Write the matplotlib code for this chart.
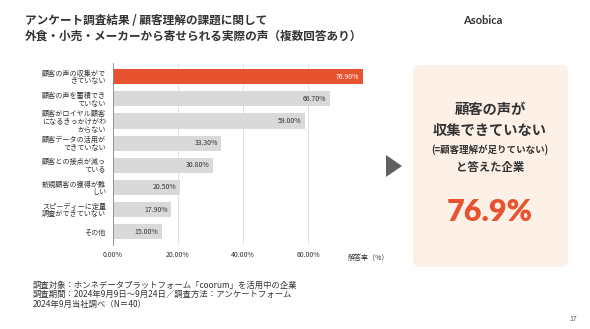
import matplotlib
matplotlib.use("Agg")
import matplotlib.pyplot as plt
from matplotlib.patches import FancyBboxPatch, Polygon

plt.rcParams['font.family'] = ['Noto Sans CJK JP', 'DejaVu Sans']

categories = [
    "顧客の声の収集がで\nきていない",
    "顧客の声を蓄積でき\nていない",
    "顧客がロイヤル顧客\nになるきっかけがわ\nからない",
    "顧客データの活用が\nできていない",
    "顧客との接点が減っ\nている",
    "新規顧客の獲得が難\nしい",
    "スピーディーに定量\n調査ができていない",
    "その他",
]
values = [76.9, 66.7, 59.0, 33.3, 30.8, 20.5, 17.9, 15.0]
xticks = [0, 20, 40, 60]
xtick_labels = ["0.00%", "20.00%", "40.00%", "60.00%"]
highlight = "76.9%"

W, H = 590, 329
fig = plt.figure(figsize=(W / 100, H / 100), dpi=100)
fig.patch.set_facecolor("white")

RED = "#E8532F"
GRAY = "#D9D9D9"
TXT = "#333333"

def fx(px):
    return px / W

def fy(py):
    return 1 - py / H

ax = fig.add_axes([fx(113), fy(245), fx(373) - fx(113), fy(63) - fy(245)])
ypos = list(range(len(categories)))
colors = [RED if i == 0 else GRAY for i in range(len(values))]
ax.barh(ypos, values, height=0.68, color=colors, zorder=3)
ax.set_xlim(0, 80)
ax.set_ylim(len(categories) - 0.4, -0.62)
ax.set_xticks(xticks + [80])
ax.set_xticklabels(xtick_labels + [""], fontsize=5, color=TXT)
ax.set_yticks(ypos)
ax.set_yticklabels(categories, fontsize=5.1, color=TXT, linespacing=0.95, ha="right")
ax.tick_params(axis="both", length=0, pad=4)
ax.tick_params(axis="y", pad=5)
ax.grid(axis="x", color="#DDDDDD", linewidth=0.6, zorder=0)
for s in ["top", "right", "bottom"]:
    ax.spines[s].set_visible(False)
ax.spines["left"].set_color("#888888")
ax.spines["left"].set_linewidth(0.6)
ax.spines["left"].set_zorder(4)
for i, v in enumerate(values):
    ax.text(v - 1.0, i, f"{v:.2f}%", ha="right", va="center", fontsize=5,
            color="white" if i == 0 else TXT, zorder=5)

# overlay for decorations in pixel coords
ov = fig.add_axes([0, 0, 1, 1], zorder=-1)
ov.set_xlim(0, W)
ov.set_ylim(H, 0)
ov.axis("off")

ov.text(25, 20, "アンケート調査結果 / 顧客理解の課題に関して", fontsize=8.4, fontweight="bold",
        color=TXT, va="center", ha="left")
ov.text(25, 36, "外食・小売・メーカーから寄せられる実際の声（複数回答あり）", fontsize=8.4,
        fontweight="bold", color=TXT, va="center", ha="left")
ov.text(483, 21, "Asobica", fontsize=8, fontweight="bold", color=TXT,
        va="center", ha="center", family=["Lato", "DejaVu Sans"])

ov.text(368, 258, "解答率（%）", fontsize=5, color=TXT, va="center", ha="center")

box = FancyBboxPatch((413, 65), 155, 202, boxstyle="round,pad=0,rounding_size=7",
                     facecolor="#FDF0E6", edgecolor="none")
ov.add_patch(box)
tri = Polygon([(386, 155), (386, 177), (402, 166)], closed=True, facecolor="#606060",
              edgecolor="none")
ov.add_patch(tri)

cx = 490
ov.text(cx, 110, "顧客の声が", fontsize=10.3, fontweight="bold", color=TXT, ha="center", va="center")
ov.text(cx, 131, "収集できていない", fontsize=10.3, fontweight="bold", color=TXT, ha="center", va="center")
ov.text(cx, 150, "(=顧客理解が足りていない)", fontsize=6.8, fontweight="bold", color=TXT,
        ha="center", va="center")
ov.text(cx, 167, "と答えた企業", fontsize=8.2, fontweight="bold", color=TXT, ha="center", va="center")
ov.text(cx, 212, highlight, fontsize=22, fontweight="heavy", color=RED, ha="center", va="center",
        family=["Lato", "DejaVu Sans"])

foot = ["調査対象：ホンネデータプラットフォーム「coorum」を活用中の企業",
        "調査期間：2024年9月9日～9月24日／調査方法：アンケートフォーム",
        "2024年9月当社調べ（N＝40）"]
for k, line in enumerate(foot):
    ov.text(33, 285 + k * 9.7, line, fontsize=6, color=TXT, ha="left", va="center")
ov.text(573, 319, "17", fontsize=5, color="#555555", ha="center", va="center")

fig.savefig("out.png", dpi=100)
